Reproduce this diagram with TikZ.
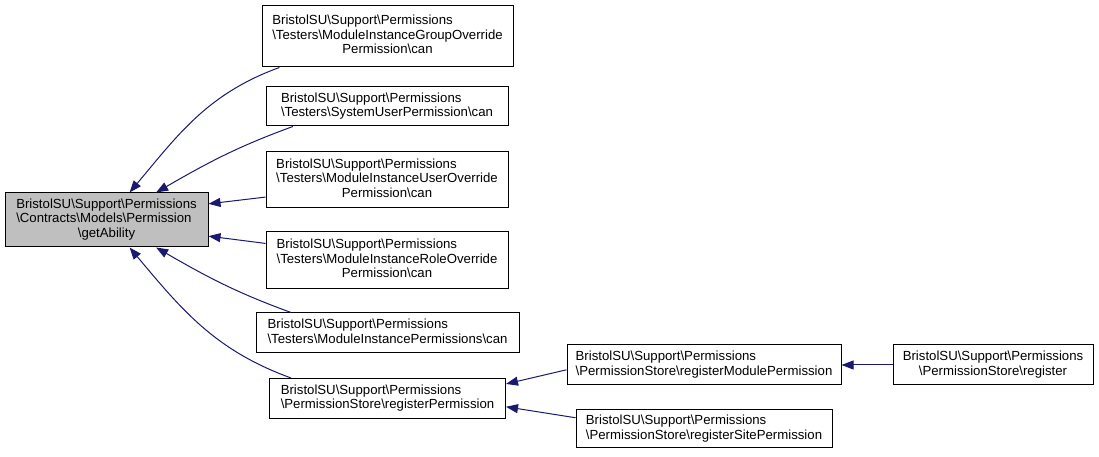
\documentclass[tikz,border=0pt]{standalone}
\usepackage{fontspec}
\setmainfont{Liberation Sans}
\usetikzlibrary{arrows.meta,positioning}
\definecolor{EdgeBlue}{HTML}{191970}
\definecolor{MainGray}{HTML}{BFBFBF}
\newcommand{\bs}{\textbackslash}
% all lines left, last line centred
\newcommand{\dlabel}[2]{\begin{tabular}{@{}l@{}}#1\\\multicolumn{1}{@{}c@{}}{#2}\end{tabular}}
\tikzset{
  member/.style={
    draw=black, line width=1pt, fill=white, inner sep=0pt,
    font=\fontsize{13.2}{14.5}\selectfont
  },
  current/.style={member, fill=MainGray},
  call/.style={-{Triangle[length=12pt,width=9pt]}, line width=1pt, draw=EdgeBlue}
}

\begin{document}
\begin{tikzpicture}[x=1pt, y=1pt]
  \useasboundingbox (0,0) rectangle (1099,457);
  \node[current, minimum width=203pt, minimum height=54pt] (getability) at (106.5,237)
    {\dlabel{BristolSU\bs Support\bs Permissions\\\bs Contracts\bs Models\bs Permission}{\bs getAbility}};
  \node[member, minimum width=251pt, minimum height=61pt] (groupoverride) at (387.5,420.5)
    {\dlabel{BristolSU\bs Support\bs Permissions\\\bs Testers\bs ModuleInstanceGroupOverride}{Permission\bs can}};
  \node[member, minimum width=242pt, minimum height=39pt] (systemuser) at (387,350.5)
    {\dlabel{BristolSU\bs Support\bs Permissions}{\bs Testers\bs SystemUserPermission\bs can}};
  \node[member, minimum width=242pt, minimum height=56pt] (useroverride) at (387,277)
    {\dlabel{BristolSU\bs Support\bs Permissions\\\bs Testers\bs ModuleInstanceUserOverride}{Permission\bs can}};
  \node[member, minimum width=242pt, minimum height=57pt] (roleoverride) at (387,196.5)
    {\dlabel{BristolSU\bs Support\bs Permissions\\\bs Testers\bs ModuleInstanceRoleOverride}{Permission\bs can}};
  \node[member, minimum width=263pt, minimum height=40pt] (instanceperms) at (387.5,124)
    {\dlabel{BristolSU\bs Support\bs Permissions}{\bs Testers\bs ModuleInstancePermissions\bs can}};
  \node[member, minimum width=236pt, minimum height=40pt] (registerperm) at (387.5,58.5)
    {\dlabel{BristolSU\bs Support\bs Permissions}{\bs PermissionStore\bs registerPermission}};
  \node[member, minimum width=274pt, minimum height=40pt] (registermodule) at (704,92)
    {\dlabel{BristolSU\bs Support\bs Permissions}{\bs PermissionStore\bs registerModulePermission}};
  \node[member, minimum width=256pt, minimum height=38pt] (registersite) at (704,28)
    {\dlabel{BristolSU\bs Support\bs Permissions}{\bs PermissionStore\bs registerSitePermission}};
  \node[member, minimum width=200pt, minimum height=40pt, right=51pt of registermodule] (register)
    {\dlabel{BristolSU\bs Support\bs Permissions}{\bs PermissionStore\bs register}};

  \draw[call] (groupoverride.196.6) to[out=200,in=50] (getability.50);
  \draw[call] (systemuser.192) to[out=200,in=30] (getability.29.4);
  \draw[call] (useroverride.188.5) -- (getability.9.5);
  \draw[call] (roleoverride.172.2) -- (getability.-9.5);
  \draw[call] (instanceperms.168) to[out=160,in=-30] (getability.-29.4);
  \draw[call] (registerperm.168.8) to[out=160,in=-50] (getability.-50);
  \draw[call] (registermodule.182) -- (registerperm.7.5);
  \draw[call] (registersite.175) -- (registerperm.-4.6);
  \draw[call] (register) -- (registermodule);
\end{tikzpicture}
\end{document}
